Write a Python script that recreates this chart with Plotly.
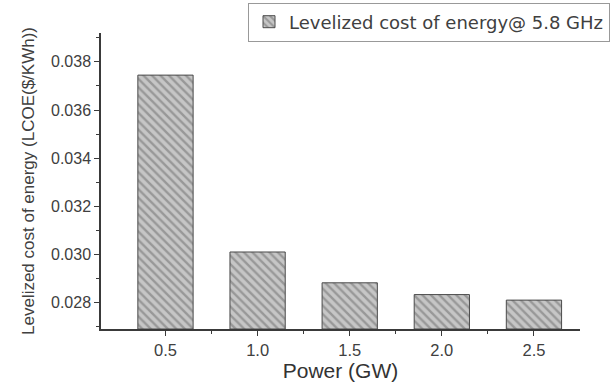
import plotly.graph_objects as go

power = [0.5, 1.0, 1.5, 2.0, 2.5]
lcoe = [0.03745, 0.0301, 0.02882, 0.02833, 0.0281]
x_ticks = [0.5, 1.0, 1.5, 2.0, 2.5]
x_tick_labels = ["0.5", "1.0", "1.5", "2.0", "2.5"]
y_ticks = [0.028, 0.030, 0.032, 0.034, 0.036, 0.038]
y_tick_labels = ["0.028", "0.030", "0.032", "0.034", "0.036", "0.038"]
y_base = 0.0269

fig = go.Figure()
fig.add_trace(go.Bar(
    x=power,
    y=[v - y_base for v in lcoe],
    base=y_base,
    width=0.3,
    customdata=lcoe,
    hovertemplate="%{x}: %{customdata}<extra></extra>",
    name="Levelized cost of energy@ 5.8 GHz",
    marker=dict(
        color="#c4c4c4",
        line=dict(color="#4a4a4a", width=1),
        pattern=dict(shape="\\", fgcolor="#6a6a6a", bgcolor="#c6c6c6", size=6, solidity=0.4),
    ),
))

font = "Liberation Sans, Arial, sans-serif"
fig.update_layout(
    width=616, height=390,
    margin=dict(l=101, r=36, t=33, b=61, autoexpand=False),
    plot_bgcolor="white", paper_bgcolor="white",
    font=dict(family=font, color="#404040"),
    showlegend=True,
    legend=dict(x=(248 - 101) / 479, y=(33 - 22) / 296 + 1, xanchor="left", yanchor="middle",
                bgcolor="white", bordercolor="#999999", borderwidth=1,
                font=dict(size=18, family="DejaVu Sans, sans-serif", color="#404040"),
                itemwidth=30),
    xaxis=dict(range=[0.15, 2.75], tickvals=x_ticks, ticktext=x_tick_labels,
               showline=True, linecolor="#3a3a3a", linewidth=1.5,
               ticks="outside", ticklen=5, tickcolor="#3a3a3a",
               minor=dict(tickvals=[0.75, 1.25, 1.75, 2.25], ticks="outside", ticklen=3, tickcolor="#3a3a3a"),
               showgrid=False, zeroline=False,
               tickfont=dict(size=16.5),
               title=dict(text="Power (GW)", font=dict(size=21, color="#333333"), standoff=6)),
    yaxis=dict(range=[y_base, 0.0392], tickvals=y_ticks, ticktext=y_tick_labels,
               showline=True, linecolor="#3a3a3a", linewidth=1.5,
               ticks="outside", ticklen=5, tickcolor="#3a3a3a",
               minor=dict(tickvals=[0.027, 0.029, 0.031, 0.033, 0.035, 0.037, 0.039], ticks="outside", ticklen=3, tickcolor="#3a3a3a"),
               showgrid=False, zeroline=False,
               tickfont=dict(size=16),
               title=dict(text="Levelized cost of energy (LCOE($/KWh))", font=dict(size=17, color="#404040"), standoff=12)),
)
fig.write_html("out.html", post_script="document.body.style.margin='0';",
               config={"displayModeBar": False})
